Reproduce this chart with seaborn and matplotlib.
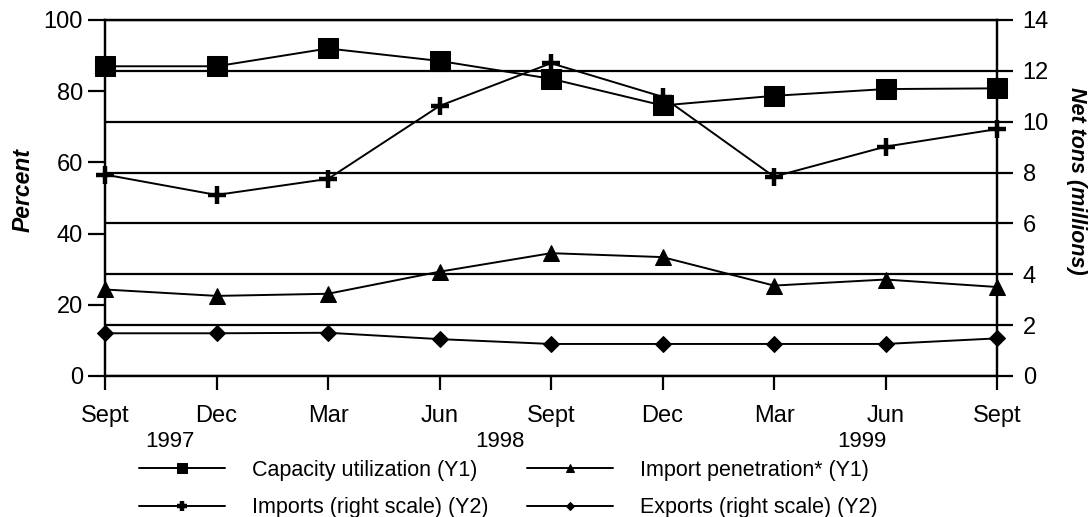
import numpy as np
import matplotlib
matplotlib.use("Agg")
import matplotlib.pyplot as plt
import seaborn as sns

periods = ["Sept", "Dec", "Mar", "Jun", "Sept", "Dec", "Mar", "Jun", "Sept"]
years = ["1997", "1998", "1999"]
year_pos = [0.58, 3.54, 6.79]

# left scale, percent
capacity = [87, 87, 92, 88.5, 83.5, 76, 78.7, 80.6, 80.8]
penetration = [24.3, 22.5, 23.1, 29.3, 34.5, 33.4, 25.4, 27.1, 25.0]
# right scale, million net tons
imports = [7.92, 7.12, 7.75, 10.62, 12.3, 10.98, 7.84, 9.02, 9.71]
exports = [1.68, 1.68, 1.70, 1.45, 1.26, 1.26, 1.26, 1.26, 1.48]

sns.set_style("white", {"text.color": "black", "xtick.color": "black",
                        "ytick.color": "black", "axes.edgecolor": "black"})
plt.rcParams["font.family"] = ["Liberation Sans", "DejaVu Sans"]

x = np.arange(len(periods))

fig = plt.figure(figsize=(10.9, 5.17), dpi=100)
ax = fig.add_axes([105 / 1090, 1 - 376 / 517, (997 - 105) / 1090, 356 / 517])
ax2 = ax.twinx()

sns.lineplot(x=x, y=capacity, ax=ax, color="black", linewidth=1.4,
             marker="s", markersize=15, markeredgecolor="black",
             label="Capacity utilization (Y1)", legend=False, clip_on=False)
sns.lineplot(x=x, y=penetration, ax=ax, color="black", linewidth=1.4,
             marker="^", markersize=12, markeredgecolor="black",
             label="Import penetration* (Y1)", legend=False, clip_on=False)
sns.lineplot(x=x, y=imports, ax=ax2, color="black", linewidth=1.4,
             marker="+", markersize=13, markeredgewidth=3.2, markeredgecolor="black",
             label="Imports (right scale) (Y2)", legend=False, clip_on=False)
sns.lineplot(x=x, y=exports, ax=ax2, color="black", linewidth=1.4,
             marker="D", markersize=8, markeredgecolor="black",
             label="Exports (right scale) (Y2)", legend=False, clip_on=False)

ax.set_xlim(0, 8)
ax.set_ylim(0, 100)
ax2.set_ylim(0, 14)
ax.set_yticks(range(0, 101, 20))
ax2.set_yticks(range(0, 15, 2))
ax.set_xticks(x)
ax.set_xticklabels(periods)

# horizontal rules follow the right-hand scale
ax2.grid(axis="y", color="black", linewidth=1.6)
ax.grid(False)
for a in (ax, ax2):
    for s in a.spines.values():
        s.set_color("black")
        s.set_linewidth(1.6)
    a.set_xlabel("")
    a.set_ylabel("")

ax.tick_params(axis="y", direction="out", length=12, width=1.6, labelsize=17, pad=4, left=True)
ax.tick_params(axis="x", direction="out", length=10, width=1.6, labelsize=17, pad=11, bottom=True)
ax2.tick_params(axis="y", direction="out", length=11.5, width=1.6, labelsize=17, pad=7, right=True)

for yr, pos in zip(years, year_pos):
    ax.text(pos, -0.185, yr, transform=ax.get_xaxis_transform(),
            ha="center", va="center", fontsize=16)

fig.text(23 / 1090, 1 - 190 / 517, "Percent", rotation=90, ha="center", va="center",
         fontsize=16.5, fontweight="bold", fontstyle="italic")
fig.text(1077 / 1090, 1 - 181 / 517, "Net tons (millions)", rotation=270, ha="center",
         va="center", fontsize=15.5, fontweight="bold", fontstyle="italic")

h1, l1 = ax.get_legend_handles_labels()
h2, l2 = ax2.get_legend_handles_labels()
handles = [h1[0], h2[0], h1[1], h2[1]]
labels = [l1[0], l2[0], l1[1], l2[1]]
fig.legend(handles, labels, loc="center", bbox_to_anchor=(0.4665, 1 - 489 / 517),
           ncol=2, frameon=False, fontsize=15.5, markerscale=0.5,
           handlelength=4.0, handletextpad=1.25, columnspacing=1.8, labelspacing=0.75)

fig.savefig("out.png", dpi=100)
